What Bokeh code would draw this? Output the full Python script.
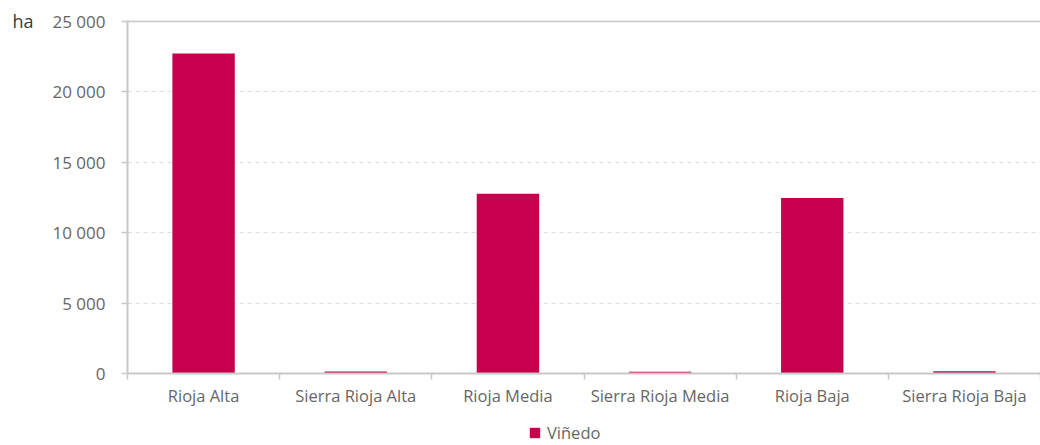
from bokeh.plotting import figure
from bokeh.layouts import column
from bokeh.models import (ColumnDataSource, FixedTicker, Range1d, Span,
                          Legend, LegendItem)
from bokeh.embed import file_html
from bokeh.resources import INLINE

categories = ["Rioja Alta", "Sierra Rioja Alta", "Rioja Media",
              "Sierra Rioja Media", "Rioja Baja", "Sierra Rioja Baja"]
vinedo = [22700, 150, 12750, 130, 12450, 160]
y_ticks = [0, 5000, 10000, 15000, 20000, 25000]
y_tick_labels = ["0", "5 000", "10 000", "15 000", "20 000", "25 000"]
series_name = "Viñedo"
unit_label = "ha"

FONT = "Open Sans"
TXT = "#666666"
AX = "#c8c8c8"
BAR = "#C6004C"

xs = [i + 0.5 for i in range(len(categories))]
src = ColumnDataSource(dict(x=xs, top=vinedo, cat=categories))

p = figure(width=1040, height=417, output_backend="svg", toolbar_location=None,
           x_range=Range1d(0, len(categories)), y_range=Range1d(0, 25050),
           min_border_left=127, min_border_right=0, min_border_top=20,
           min_border_bottom=44)
p.outline_line_color = None
p.background_fill_color = "white"
p.border_fill_color = "white"

r = p.vbar(x="x", top="top", width=0.41, source=src, color=BAR, line_color=None)

# y axis
ya = p.yaxis[0]
ya.ticker = FixedTicker(ticks=y_ticks, minor_ticks=[])
ya.major_label_overrides = {t: l for t, l in zip(y_ticks, y_tick_labels)}
ya.axis_line_color = AX
ya.axis_line_width = 2
ya.major_tick_line_color = AX
ya.major_tick_line_width = 1.5
ya.major_tick_out = 6
ya.major_tick_in = 0
ya.minor_tick_line_color = None
ya.major_label_text_font = FONT
ya.major_label_text_font_size = "17px"
ya.major_label_text_color = TXT
ya.major_label_standoff = 16
ya.axis_label = unit_label
ya.axis_label_orientation = "horizontal"
ya.axis_label_align = "end"
ya.axis_label_standoff = 16
ya.axis_label_text_font = FONT
ya.axis_label_text_font_size = "18px"
ya.axis_label_text_font_style = "normal"
ya.axis_label_text_color = "#3a3a3a"

# x axis
xa = p.xaxis[0]
xa.ticker = FixedTicker(ticks=xs, minor_ticks=list(range(len(categories) + 1)))
xa.major_label_overrides = {x: c for x, c in zip(xs, categories)}
xa.axis_line_color = AX
xa.axis_line_width = 2
xa.major_tick_line_color = None
xa.major_tick_out = 0
xa.major_tick_in = 0
xa.minor_tick_line_color = AX
xa.minor_tick_line_width = 1.5
xa.minor_tick_out = 6
xa.minor_tick_in = 0
xa.major_label_text_font = FONT
xa.major_label_text_font_size = "16.5px"
xa.major_label_text_color = TXT
xa.major_label_standoff = 4

# grid
p.xgrid.grid_line_color = None
p.ygrid.ticker = FixedTicker(ticks=y_ticks[1:-1])
p.ygrid.grid_line_color = "#dcdcdc"
p.ygrid.grid_line_dash = "4 4"
p.ygrid.grid_line_width = 1
p.add_layout(Span(location=y_ticks[-1], dimension="width", line_color=AX,
                  line_width=2))

# legend strip below the chart (its bars lie outside the strip's view)
lg = figure(width=1040, height=28, output_backend="svg", toolbar_location=None,
            x_range=Range1d(-101, -100), y_range=Range1d(-2, -1),
            x_axis_location=None, y_axis_location=None,
            min_border_left=127, min_border_right=0, min_border_top=0,
            min_border_bottom=0)
lg.outline_line_color = None
lg.xgrid.grid_line_color = None
lg.ygrid.grid_line_color = None
lr = lg.vbar(x="x", top="top", width=0.41, source=src, color=BAR, line_color=None)
legend = Legend(items=[LegendItem(label=series_name, renderers=[lr])],
                location=(401, 1), orientation="horizontal",
                label_text_font=FONT, label_text_font_size="16.5px",
                label_text_color=TXT, glyph_width=13, glyph_height=13,
                border_line_color=None, background_fill_alpha=0,
                padding=2, margin=0, spacing=0, label_standoff=6)
lg.add_layout(legend, "center")

layout = column(p, lg, spacing=0)
open("out.html", "w").write(file_html(layout, INLINE))
